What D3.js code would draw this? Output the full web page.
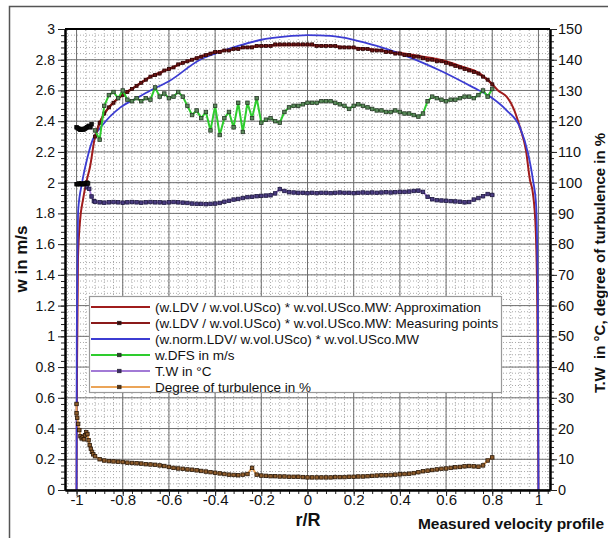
<!DOCTYPE html>
<html>
<head>
<meta charset="utf-8">
<script src="https://cdn.jsdelivr.net/npm/d3@7"></script>
<style>
  body { margin: 0; background: #fff; }
  text { font-family: "Liberation Sans", Arial, sans-serif; }
</style>
</head>
<body>
<svg id="chart" width="608" height="538"></svg>
<script>
// measuring positions r/R shared by the measured series
const rGrid = [
  -0.92, -0.90, -0.88, -0.86, -0.84, -0.82, -0.80, -0.78, -0.76, -0.74,
  -0.72, -0.70, -0.68, -0.66, -0.64, -0.62, -0.60, -0.58, -0.56, -0.54,
  -0.52, -0.50, -0.48, -0.46, -0.44, -0.42, -0.40, -0.38, -0.36, -0.34,
  -0.32, -0.30, -0.28, -0.26, -0.24, -0.22, -0.20, -0.18, -0.16, -0.14,
  -0.12, -0.10, -0.08, -0.06, -0.04, -0.02, 0.00, 0.02, 0.04, 0.06,
  0.08, 0.10, 0.12, 0.14, 0.16, 0.18, 0.20, 0.22, 0.24, 0.26,
  0.28, 0.30, 0.32, 0.34, 0.36, 0.38, 0.40, 0.42, 0.44, 0.46,
  0.48, 0.50, 0.52, 0.54, 0.56, 0.58, 0.60, 0.62, 0.64, 0.66,
  0.68, 0.70, 0.72, 0.74, 0.76, 0.78, 0.80
]

// (w.LDV / w.vol.USco) * w.vol.USco.MW: Measuring points, m/s
const measured = [
  2.30, 2.39, 2.45, 2.49, 2.52, 2.55, 2.57, 2.59, 2.61, 2.63,
  2.65, 2.67, 2.69, 2.70, 2.71, 2.73, 2.74, 2.75, 2.77, 2.78,
  2.79, 2.80, 2.81, 2.82, 2.83, 2.84, 2.85, 2.85, 2.86, 2.86,
  2.87, 2.87, 2.88, 2.88, 2.88, 2.89, 2.89, 2.89, 2.89, 2.90,
  2.90, 2.90, 2.90, 2.90, 2.90, 2.90, 2.90, 2.90, 2.89, 2.89,
  2.89, 2.89, 2.89, 2.88, 2.88, 2.88, 2.88, 2.87, 2.87, 2.87,
  2.86, 2.86, 2.86, 2.85, 2.85, 2.84, 2.84, 2.83, 2.83, 2.82,
  2.82, 2.81, 2.80, 2.80, 2.79, 2.79, 2.78, 2.77, 2.76, 2.75,
  2.74, 2.73, 2.72, 2.71, 2.69, 2.67, 2.64
]
const measUpperR = [-1.0, -0.995, -0.99, -0.985, -0.98, -0.975, -0.97, -0.965, -0.96, -0.955, -0.95, -0.945, -0.94, -0.935]
const measUpper = [2.36, 2.355, 2.35, 2.345, 2.345, 2.35, 2.345, 2.35, 2.355, 2.36, 2.365, 2.37, 2.36, 2.38]
const measLowerR = [-1.0, -0.995, -0.99, -0.985, -0.98, -0.975, -0.97, -0.965, -0.96, -0.955, -0.95]
const measLower = [1.99, 1.99, 1.995, 1.99, 1.995, 1.99, 1.99, 1.995, 1.995, 2.0, 1.995]

// approximation curve
const approxR = [-1, -0.998, -0.994, -0.985, -0.972, -0.955, -0.942, -0.92, -0.9, -0.87, -0.81, -0.74, -0.68, -0.6,
  -0.465, -0.4, -0.3, -0.2, -0.1, 0, 0.1, 0.2, 0.3, 0.4, 0.5, 0.574, 0.66, 0.747, 0.8, 0.825, 0.862, 0.89,
  0.92, 0.946, 0.963, 0.976, 0.988, 0.995, 1]
const approxW = [0, 0.8, 1.5, 1.75, 1.89, 2.02, 2.1, 2.3, 2.39, 2.47, 2.56, 2.63, 2.69, 2.74,
  2.82, 2.85, 2.875, 2.89, 2.895, 2.895, 2.89, 2.88, 2.865, 2.845, 2.82, 2.8, 2.76, 2.71, 2.64, 2.6, 2.56, 2.49,
  2.36, 2.21, 2.02, 1.93, 1.7, 1.2, 0]

// (w.norm.LDV / w.vol.USco) * w.vol.USco.MW
const normR = [-1, -0.999, -0.996, -0.993, -0.976, -0.955, -0.93, -0.89, -0.81, -0.74, -0.68, -0.6, -0.465, -0.4,
  -0.3, -0.2, -0.1, 0, 0.1, 0.2, 0.3, 0.4, 0.5, 0.574, 0.717, 0.79, 0.862, 0.92, 0.955, 0.976, 0.99, 0.996, 0.999, 1]
const normW = [0, 1.0, 1.5, 1.82, 2.0, 2.15, 2.28, 2.37, 2.49, 2.55, 2.6, 2.66, 2.8, 2.84,
  2.89, 2.93, 2.95, 2.96, 2.955, 2.93, 2.89, 2.84, 2.78, 2.73, 2.62, 2.56, 2.47, 2.36, 2.19, 2.02, 1.85, 1.4, 0.8, 0]

// w.DFS in m/s
const wDFS = [
  2.34, 2.28, 2.50, 2.57, 2.59, 2.55, 2.60, 2.54, 2.53, 2.55,
  2.53, 2.55, 2.54, 2.62, 2.56, 2.58, 2.55, 2.56, 2.59, 2.56,
  2.50, 2.44, 2.47, 2.42, 2.46, 2.34, 2.50, 2.31, 2.42, 2.46,
  2.36, 2.52, 2.33, 2.52, 2.42, 2.55, 2.39, 2.41, 2.42, 2.40,
  2.39, 2.46, 2.49, 2.50, 2.50, 2.51, 2.52, 2.52, 2.52, 2.53,
  2.53, 2.53, 2.52, 2.51, 2.50, 2.48, 2.50, 2.51, 2.50, 2.49,
  2.48, 2.47, 2.47, 2.46, 2.46, 2.47, 2.46, 2.45, 2.45, 2.44,
  2.43, 2.45, 2.53, 2.56, 2.55, 2.54, 2.53, 2.54, 2.54, 2.55,
  2.56, 2.56, 2.55, 2.57, 2.60, 2.56, 2.61
]

// T.W in °C
const tempWallR = [-0.955, -0.945, -0.935, -0.925]
const tempWall = [98.5, 98.0, 95.5, 94.0]
const tempW = [
  93.8, 93.6, 93.5, 93.6, 93.7, 93.6, 93.5, 93.6, 93.7, 93.6,
  93.5, 93.6, 93.7, 93.6, 93.6, 93.5, 93.6, 93.7, 93.6, 93.5,
  93.4, 93.2, 93.1, 93.1, 93.0, 93.1, 93.2, 93.4, 93.8, 94.1,
  94.5, 94.7, 95.0, 95.3, 95.4, 95.6, 95.7, 95.8, 95.9, 96.5,
  97.9, 97.3, 96.9, 96.8, 96.7, 96.7, 96.6, 96.7, 96.6, 96.7,
  96.7, 96.6, 96.7, 96.8, 96.7, 96.7, 96.6, 96.7, 96.8, 96.7,
  96.8, 96.7, 96.8, 96.9, 96.8, 96.9, 97.0, 97.0, 97.1, 97.3,
  97.4, 97.0, 95.4, 94.6, 94.3, 94.2, 94.1, 94.0, 93.9, 93.8,
  93.6, 93.7, 94.5, 95.0, 95.6, 96.3, 96.0
]

// Degree of turbulence in %
const turbWallR = [-1.0, -1.0, -0.997, -0.993, -0.988, -0.983, -0.978, -0.973, -0.968, -0.963, -0.958, -0.953, -0.948, -0.943, -0.938, -0.933, -0.928]
const turbWall = [28.0, 25.0, 23.5, 21.5, 19.5, 17.5, 16.8, 17.2, 16.5, 17.8, 18.8, 18.2, 16.2, 14.6, 13.4, 12.4, 11.6]
const turb = [
  11.0, 10.0, 9.6, 9.4, 9.3, 9.2, 9.1, 8.9, 8.8, 8.7,
  8.6, 8.4, 8.3, 8.2, 8.0, 7.8, 7.5, 7.2, 7.0, 6.9,
  6.7, 6.6, 6.4, 6.2, 6.0, 5.8, 5.6, 5.4, 5.2, 5.0,
  4.9, 4.8, 5.0, 5.2, 7.2, 5.0, 4.7, 4.6, 4.5, 4.5,
  4.4, 4.4, 4.3, 4.3, 4.3, 4.2, 4.1, 4.1, 4.1, 4.1,
  4.1, 4.1, 4.2, 4.2, 4.2, 4.3, 4.3, 4.4, 4.4, 4.5,
  4.6, 4.7, 4.8, 4.8, 4.9, 5.0, 5.1, 5.2, 5.3, 5.5,
  5.8, 6.1, 6.3, 6.5, 6.7, 6.9, 7.0, 7.2, 7.4, 7.5,
  7.7, 7.8, 7.7, 7.6, 8.0, 9.6, 10.6
]

const legendItems = [
  { label: '(w.LDV / w.vol.USco) * w.vol.USco.MW: Approximation', color: '#a01c1c', marker: null },
  { label: '(w.LDV / w.vol.USco) * w.vol.USco.MW: Measuring points', color: '#8a1a1a', marker: '#3a0808' },
  { label: '(w.norm.LDV/ w.vol.USco) * w.vol.USco.MW', color: '#3c3cd2', marker: null },
  { label: 'w.DFS in m/s', color: '#2ecc2e', marker: '#2a4a2a' },
  { label: 'T.W in °C', color: '#a27ad6', marker: '#3a2a6a' },
  { label: 'Degree of turbulence in %', color: '#eba458', marker: '#5a3410' }
]

const svg = d3.select('#chart')
const x = d3.scaleLinear().domain([-1.05, 1.05]).range([65, 550])
const yL = d3.scaleLinear().domain([0, 3]).range([490, 29])
const yR = d3.scaleLinear().domain([0, 150]).range([490, 29])

const steps = (a, b, s) => d3.range(Math.round(a / s), Math.round(b / s) + 1).map(i => +(i * s).toFixed(3))
const fmt = d => String(+d.toFixed(1))

// outer frame
svg.append('rect')
  .attr('x', 9.5).attr('y', 6.5).attr('width', 700).attr('height', 700)
  .attr('fill', 'none').attr('stroke', '#555').attr('stroke-width', 1.5)

// grid
const grid = svg.append('g')
grid.selectAll('.vminor').data(steps(-1.04, 1.04, 0.04)).enter().append('line')
  .attr('x1', d => x(d)).attr('x2', d => x(d)).attr('y1', yL(0)).attr('y2', yL(3))
  .attr('stroke', '#aaa').attr('stroke-dasharray', '1,2')
grid.selectAll('.hminor').data(steps(0, 3, 0.04)).enter().append('line')
  .attr('y1', d => yL(d)).attr('y2', d => yL(d)).attr('x1', x(-1.05)).attr('x2', x(1.05))
  .attr('stroke', '#aaa').attr('stroke-dasharray', '1,2')
grid.selectAll('.vmajor').data(steps(-1, 1, 0.2)).enter().append('line')
  .attr('x1', d => x(d)).attr('x2', d => x(d)).attr('y1', yL(0)).attr('y2', yL(3))
  .attr('stroke', '#707070')
grid.selectAll('.hmajor').data(steps(0, 3, 0.2)).enter().append('line')
  .attr('y1', d => yL(d)).attr('y2', d => yL(d)).attr('x1', x(-1.05)).attr('x2', x(1.05))
  .attr('stroke', '#707070')

// series
const plot = svg.append('g')

function drawLine(rs, vs, yScale, color, width, curve) {
  const line = d3.line().curve(curve || d3.curveLinear)
  plot.append('path')
    .attr('d', line(rs.map((r, i) => [x(r), yScale(vs[i])])))
    .attr('fill', 'none').attr('stroke', color).attr('stroke-width', width)
    .attr('stroke-linejoin', 'round')
}

function drawMarkers(rs, vs, yScale, fill, stroke, size) {
  plot.append('g').selectAll('rect').data(rs.map((r, i) => [r, vs[i]])).enter().append('rect')
    .attr('x', d => x(d[0]) - size / 2).attr('y', d => yScale(d[1]) - size / 2)
    .attr('width', size).attr('height', size)
    .attr('fill', fill).attr('stroke', stroke).attr('stroke-width', 0.8)
}

drawLine(approxR, approxW, yL, '#a01c1c', 2, d3.curveMonotoneX)
drawLine(normR, normW, yL, '#3c3cd2', 1.8, d3.curveMonotoneX)

drawLine(rGrid, measured, yL, '#8a1a1a', 2.2)
drawMarkers(rGrid, measured, yL, '#6a1414', '#2a0606', 3)

drawLine(rGrid, wDFS, yL, '#2ecc2e', 2)
drawMarkers(rGrid, wDFS, yL, '#5a8a5a', '#283828', 3.5)

const tempR = tempWallR.concat(rGrid)
const tempAll = tempWall.concat(tempW)
drawLine(tempR, tempAll, yR, '#a27ad6', 1.8)
drawMarkers(tempR, tempAll, yR, '#4a3c80', '#1e1840', 3.5)

const turbR = turbWallR.concat(rGrid)
const turbAll = turbWall.concat(turb)
drawLine(turbR, turbAll, yR, '#eba458', 2)
drawMarkers(turbR, turbAll, yR, '#8e5c2c', '#2a1808', 3.5)

drawLine(measUpperR, measUpper, yL, '#111', 2.5)
drawMarkers(measUpperR, measUpper, yL, '#111', '#000', 3.5)
drawLine(measLowerR, measLower, yL, '#111', 2.5)
drawMarkers(measLowerR, measLower, yL, '#111', '#000', 3.5)

// axes
function styleAxis(size) {
  return g => {
    g.select('.domain').attr('stroke', '#000').attr('stroke-width', 2)
    g.selectAll('.tick line').attr('stroke', '#222')
    g.selectAll('.tick text').attr('fill', '#111').style('font-size', size + 'px')
      .style('font-family', '"Liberation Sans", Arial, sans-serif')
  }
}

svg.append('g').attr('transform', `translate(${x(-1.05)},0)`)
  .call(d3.axisLeft(yL).tickValues(steps(0, 3, 0.04)).tickSize(4).tickFormat('').tickSizeOuter(0)).call(styleAxis(14))
svg.append('g').attr('transform', `translate(${x(-1.05)},0)`)
  .call(d3.axisLeft(yL).tickValues(steps(0, 3, 0.2)).tickSize(7).tickPadding(3).tickFormat(fmt).tickSizeOuter(0)).call(styleAxis(14))

svg.append('g').attr('transform', `translate(0,${yL(0)})`)
  .call(d3.axisBottom(x).tickValues(steps(-1.04, 1.04, 0.04)).tickSize(4).tickFormat('').tickSizeOuter(0)).call(styleAxis(15))
svg.append('g').attr('transform', `translate(0,${yL(0)})`)
  .call(d3.axisBottom(x).tickValues(steps(-1, 1, 0.2)).tickSize(6).tickPadding(-2).tickFormat(fmt).tickSizeOuter(0)).call(styleAxis(15))

svg.append('g').attr('transform', `translate(${x(1.05)},0)`)
  .call(d3.axisRight(yR).tickValues(steps(0, 150, 2)).tickSize(4).tickFormat('').tickSizeOuter(0)).call(styleAxis(14))
svg.append('g').attr('transform', `translate(${x(1.05)},0)`)
  .call(d3.axisRight(yR).tickValues(steps(0, 150, 10)).tickSize(7).tickPadding(1).tickFormat(d3.format('d')).tickSizeOuter(0)).call(styleAxis(14.5))

svg.append('line')
  .attr('x1', x(-1.05)).attr('x2', x(1.05)).attr('y1', yL(3)).attr('y2', yL(3))
  .attr('stroke', '#000').attr('stroke-width', 2)

// legend
const legend = svg.append('g')
legend.append('rect')
  .attr('x', 89.5).attr('y', 296.5).attr('width', 412).attr('height', 96)
  .attr('fill', '#fff').attr('stroke', '#999').attr('stroke-width', 1.2)
const row = legend.selectAll('.row').data(legendItems).enter().append('g')
  .attr('transform', (d, i) => `translate(0,${307 + i * 16})`)
row.append('line')
  .attr('x1', 91).attr('x2', 150).attr('y1', 0).attr('y2', 0)
  .attr('stroke', d => d.color).attr('stroke-width', 2.2)
row.filter(d => d.marker).append('rect')
  .attr('x', 117.5).attr('y', -1.8).attr('width', 3.6).attr('height', 3.6)
  .attr('fill', d => d.marker).attr('stroke', '#222').attr('stroke-width', 0.6)
row.append('text')
  .attr('x', 155).attr('y', 5)
  .style('font-size', '13.5px').attr('fill', '#111')
  .text(d => d.label)

// titles
svg.append('text')
  .attr('x', 308).attr('y', 526).attr('text-anchor', 'middle')
  .style('font-size', '18px').style('font-weight', 'bold').attr('fill', '#111')
  .text('r/R')
svg.append('text')
  .attr('x', 604).attr('y', 529).attr('text-anchor', 'end')
  .style('font-size', '15.5px').style('font-weight', 'bold').attr('fill', '#111')
  .text('Measured velocity profile')
svg.append('text')
  .attr('transform', 'translate(27,259) rotate(-90)').attr('text-anchor', 'middle')
  .style('font-size', '17px').style('font-weight', 'bold').attr('fill', '#111')
  .text('w in m/s')
svg.append('text')
  .attr('transform', 'translate(605,263) rotate(-90)').attr('text-anchor', 'middle')
  .style('font-size', '15px').style('font-weight', 'bold').style('white-space', 'pre').attr('fill', '#111')
  .text('T.W  in °C, degree of turbulence in %')
</script>
</body>
</html>
